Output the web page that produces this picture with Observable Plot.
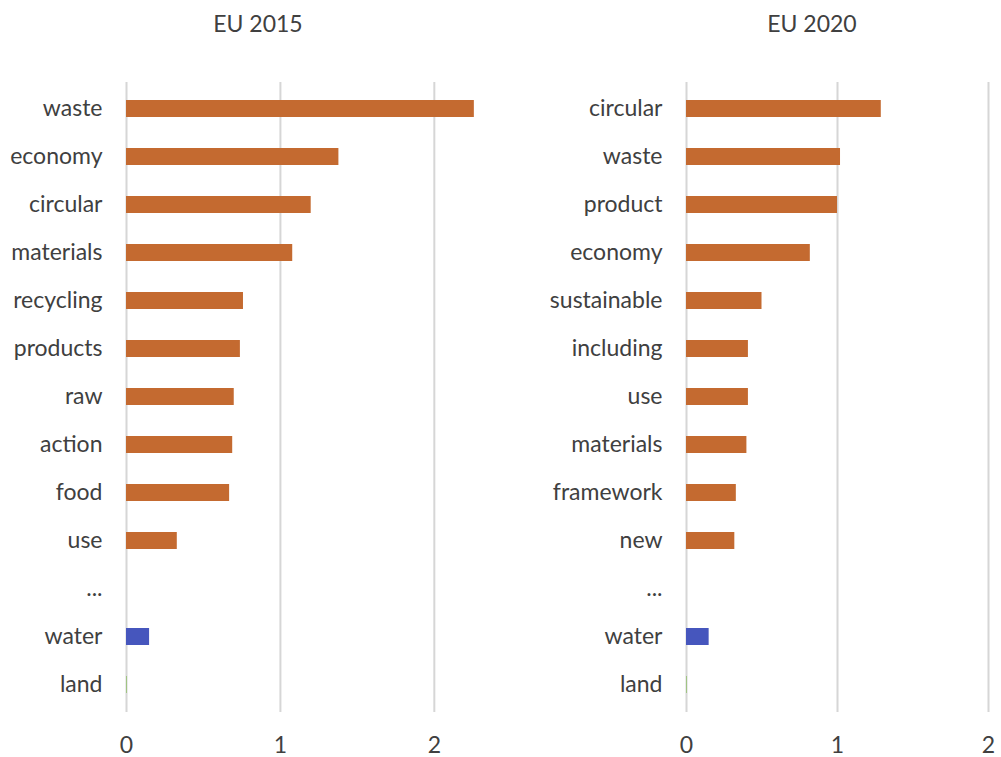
<!DOCTYPE html>
<html>
<head>
<meta charset="utf-8">
<script src="https://cdn.jsdelivr.net/npm/d3@7"></script>
<script src="https://cdn.jsdelivr.net/npm/@observablehq/plot@0.6"></script>
<style>
  html, body { margin: 0; padding: 0; background: #fff; }
  #wrap { position: relative; width: 1001px; height: 757px; overflow: hidden; font-family: Lato, "Open Sans", sans-serif; }
  .panel { position: absolute; top: 0; }
  .title { position: absolute; top: 9px; width: 200px; text-align: center; font-size: 23px; color: #404040; }
</style>
</head>
<body>
<div id="wrap"></div>
<script>
// ---- data ----
const titles = ["EU 2015", "EU 2020"];
const words2015 = ["waste", "economy", "circular", "materials", "recycling", "products", "raw", "action", "food", "use", "...", "water", "land"];
const values2015 = [2.26, 1.38, 1.20, 1.08, 0.76, 0.74, 0.70, 0.69, 0.67, 0.33, null, 0.15, 0.005];
const words2020 = ["circular", "waste", "product", "economy", "sustainable", "including", "use", "materials", "framework", "new", "...", "water", "land"];
const values2020 = [1.29, 1.02, 1.00, 0.82, 0.50, 0.41, 0.41, 0.40, 0.33, 0.32, null, 0.15, 0.005];
const xTicks = [0, 1, 2];

const ORANGE = "#c46a30", BLUE = "#4656bd", GREEN = "#8fbf6a";
function colorOf(w) { return w === "water" ? BLUE : w === "land" ? GREEN : ORANGE; }

function panel(words, values, opts) {
  const rows = words.map((w, i) => ({word: w, value: values[i]})).filter(d => d.value != null);
  return Plot.plot({
    width: opts.width,
    height: 757,
    marginLeft: opts.marginLeft,
    marginRight: opts.marginRight,
    marginTop: 82,
    marginBottom: 45,
    style: {fontFamily: "Lato, 'Open Sans', sans-serif", fontSize: "23px", color: "#404040", background: "#fff"},
    x: {domain: opts.xDomain, ticks: xTicks, tickFormat: d3.format("d")},
    y: {domain: words, paddingInner: 0.64, paddingOuter: 0.3},
    marks: [
      Plot.ruleX(xTicks, {stroke: "#d6d6d6", strokeWidth: 2}),
      Plot.barX(rows, {x: "value", y: "word", fill: d => colorOf(d.word)}),
      Plot.axisX({ticks: xTicks, tickSize: 0, tickPadding: 24, label: null, tickFormat: d3.format("d")}),
      Plot.axisY({tickSize: 0, tickPadding: 24, label: null})
    ]
  });
}

const wrap = document.getElementById("wrap");

const p1 = panel(words2015, values2015, {width: 500, marginLeft: 126, marginRight: 20, xDomain: [0, 2.3]});
p1.classList.add("panel"); p1.style.left = "0px";
wrap.appendChild(p1);

const p2 = panel(words2020, values2020, {width: 501, marginLeft: 186, marginRight: 13, xDomain: [0, 2]});
p2.classList.add("panel"); p2.style.left = "500px";
wrap.appendChild(p2);

const t1 = document.createElement("div"); t1.className = "title"; t1.textContent = titles[0]; t1.style.left = (258 - 100) + "px";
const t2 = document.createElement("div"); t2.className = "title"; t2.textContent = titles[1]; t2.style.left = (812 - 100) + "px";
wrap.appendChild(t1); wrap.appendChild(t2);
</script>
</body>
</html>
